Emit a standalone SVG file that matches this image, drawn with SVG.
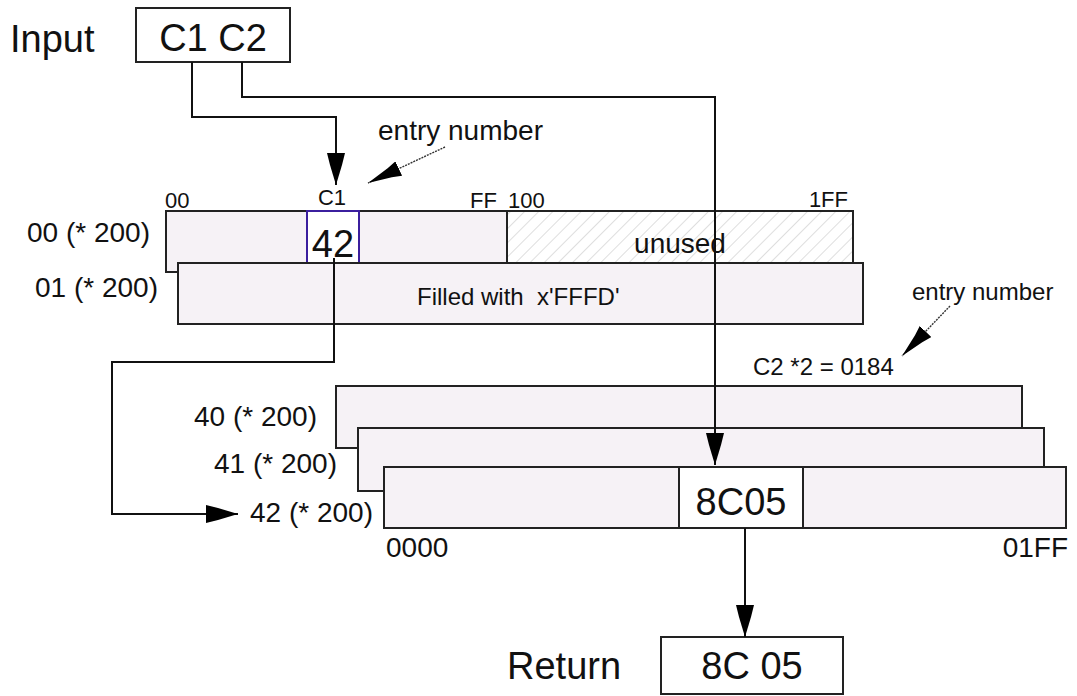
<svg xmlns="http://www.w3.org/2000/svg" width="1077" height="696" viewBox="0 0 1077 696">
<defs>
<pattern id="hatch" patternUnits="userSpaceOnUse" width="10" height="10" patternTransform="rotate(45)">
<rect width="10" height="10" fill="#ffffff"/>
<line x1="0" y1="0" x2="0" y2="10" stroke="#bdbdbd" stroke-width="1"/>
</pattern>
<marker id="arr" viewBox="0 0 32 18" refX="32" refY="9" markerWidth="32" markerHeight="18" markerUnits="userSpaceOnUse" orient="auto">
<path d="M0,0 L12,3 L32,9 L12,15 L0,18 Z" fill="#000"/>
</marker>
<marker id="arr2" viewBox="0 0 34 16" refX="34" refY="8" markerWidth="34" markerHeight="16" markerUnits="userSpaceOnUse" orient="auto">
<path d="M0,0 L10,3 L34,8 L10,13 L0,16 Z" fill="#000"/>
</marker>
</defs>
<style>
text{font-family:"Liberation Sans",Arial,sans-serif;fill:#111}
.big{font-size:38px}
.mid{font-size:28px}
.sm{font-size:24px}
.xs{font-size:22px}
.row{fill:#f6f2f6;stroke:#222;stroke-width:2}
.box{fill:#fff;stroke:#222;stroke-width:2}
.conn{fill:none;stroke:#111;stroke-width:2}
.pt{fill:none;stroke:#333;stroke-width:1.4;stroke-dasharray:2 1}
</style>
<rect width="1077" height="696" fill="#fff"/>

<g id="input">
<text class="big" x="10" y="52">Input</text>
<rect class="box" x="136" y="8" width="154" height="54"/>
<text class="big" x="213" y="51" text-anchor="middle">C1 C2</text>
</g>

<g id="table0">
<rect class="row" x="166" y="211" width="687" height="61"/>
<rect x="507" y="211" width="346" height="52" fill="url(#hatch)" stroke="#222" stroke-width="2"/>
<rect x="307" y="211" width="52" height="52" fill="#fff" stroke="#3b1f9e" stroke-width="2"/>
<text class="big" x="333" y="257" text-anchor="middle">42</text>
<text class="mid" x="680" y="253" text-anchor="middle">unused</text>
<text class="xs" x="165" y="208">00</text>
<text class="xs" x="332" y="205" text-anchor="middle">C1</text>
<text class="xs" x="497" y="208" text-anchor="end">FF</text>
<text class="xs" x="508" y="208">100</text>
<text class="xs" x="848" y="207" text-anchor="end">1FF</text>
<text class="mid" x="150" y="242" text-anchor="end">00 (* 200)</text>
</g>

<g id="table1">
<rect class="row" x="178" y="263" width="685" height="61"/>
<text class="sm" x="417" y="305">Filled with &#160;x'FFFD'</text>
<text class="mid" x="158" y="297" text-anchor="end">01 (* 200)</text>
</g>

<g id="table40">
<rect class="row" x="336" y="386" width="686" height="62"/>
<text class="mid" x="317" y="426" text-anchor="end">40 (* 200)</text>
</g>
<g id="table41">
<rect class="row" x="358" y="428" width="686" height="63"/>
<text class="mid" x="337" y="473" text-anchor="end">41 (* 200)</text>
</g>
<g id="table42">
<rect class="row" x="384" y="467" width="682" height="61"/>
<rect class="box" x="679" y="467" width="124" height="61"/>
<text class="big" x="741" y="515" text-anchor="middle">8C05</text>
<text class="mid" x="373" y="522" text-anchor="end">42 (* 200)</text>
<text class="mid" x="386" y="557">0000</text>
<text class="mid" x="1068" y="557" text-anchor="end">01FF</text>
</g>

<g id="return">
<text class="big" x="507" y="679">Return</text>
<rect class="box" x="661" y="637" width="182" height="57"/>
<text class="big" x="752" y="679" text-anchor="middle">8C 05</text>
</g>

<g id="notes">
<text class="mid" x="378" y="140">entry number</text>
<text class="sm" x="912" y="300">entry number</text>
<text class="sm" x="753" y="375">C2 *2 = 0184</text>
</g>

<g id="connectors">
<polyline class="conn" points="192,62 192,117 336,117 336,185" marker-end="url(#arr)"/>
<polyline class="conn" points="242,62 242,97 715,97 715,465" marker-end="url(#arr)"/>
<polyline class="conn" points="334,258 334,362 112,362 112,514 238,514" marker-end="url(#arr)"/>
<line class="conn" x1="745" y1="528" x2="745" y2="637" marker-end="url(#arr)"/>
<line class="pt" x1="445" y1="147" x2="368" y2="183" marker-end="url(#arr2)"/>
<line class="pt" x1="950" y1="306" x2="902" y2="356" marker-end="url(#arr2)"/>
</g>
</svg>
